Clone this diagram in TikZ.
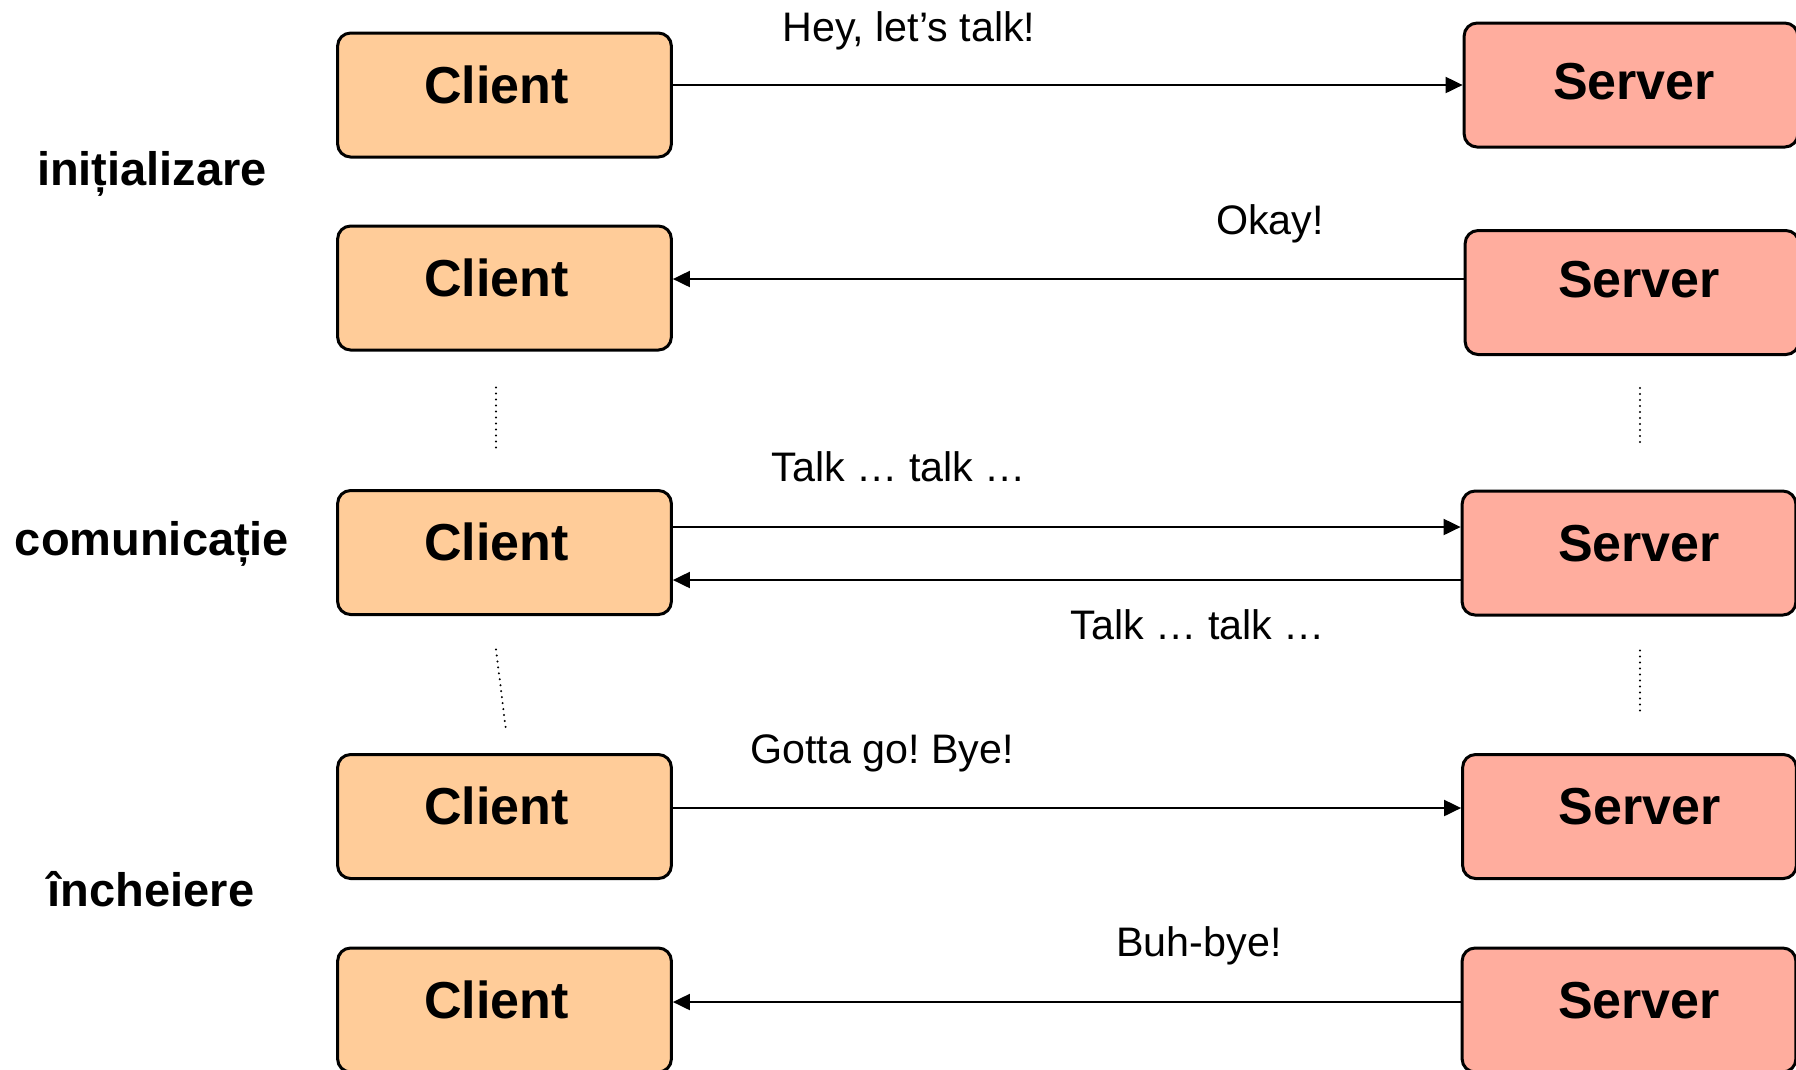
\documentclass[tikz,border=0pt]{standalone}
\usepackage{fontspec}
\setmainfont{Liberation Sans}
\usetikzlibrary{arrows.meta,calc}

\definecolor{clientfill}{HTML}{FFCC99}
\definecolor{serverfill}{HTML}{FFAD9E}

\tikzset{
  party/.style={draw=black, line width=1.2pt, rounded corners=5.2pt,
    minimum width=133.5pt, minimum height=49.6pt, inner sep=0pt,
    font=\fontsize{20.8}{25}\bfseries\selectfont,
    text height=15.2pt, text depth=8.8pt},
  % moves the label sideways inside its box by half the given amount
  nudge/.style={execute at begin node={\hspace*{#1}}},
  clientbox/.style={party, fill=clientfill, nudge=-6.4pt},
  serverplain/.style={party, fill=serverfill},
  serverbox/.style={serverplain, nudge=8pt},
  msg/.style={line width=0.8pt, -{Triangle[length=6.8pt,width=6.4pt]}},
  msgtext/.style={anchor=base, inner sep=0pt, font=\fontsize{16.5}{19}\selectfont},
  phase/.style={anchor=base, inner sep=0pt, font=\fontsize{18.8}{22}\bfseries\selectfont},
  elided/.style={line width=0.9pt, line cap=round, dash pattern=on 0pt off 2.4pt},
}

\begin{document}
\frenchspacing
\begin{tikzpicture}[x=0.4pt, y=-0.4pt]
  \clip (0,0) rectangle (1796,1069);

  % client column
  \node[clientbox] (c1) at (504.5,95)   {Client};
  \node[clientbox] (c2) at (504.5,288)  {Client};
  \node[clientbox] (c3) at (504.5,552.5){Client};
  \node[clientbox] (c4) at (504.5,816.5){Client};
  \node[clientbox] (c5) at (504.5,1010) {Client};

  % server column
  \node[serverplain, text depth=4pt, nudge=2.4pt]    (s1) at (1631,85)    {Server};
  \node[serverplain, text depth=11.2pt, nudge=5.6pt] (s2) at (1632,292.5) {Server};
  \node[serverbox] (s3) at (1629,553)   {Server};
  \node[serverbox] (s4) at (1629.5,816.5){Server};
  \node[serverbox] (s5) at (1629,1010)  {Server};

  % phase names
  \node[phase] (p1) at (152,185) {inițializare};
  \node[phase] (p2) at (152,555) {comunicație};
  \node[phase] (p3) at (151,906) {încheiere};

  % messages
  \draw[msg] (c1.east |- s1.west) -- (s1.west);
  \draw[msg] ($(s2.west)+(0,-13.5)$) coordinate (m2) -- (m2 -| c2.east);
  \draw[msg] ($(c3.east)+(0,-25.5)$) coordinate (m3) -- (m3 -| s3.west);
  \draw[msg] ($(s3.west)+(0,27)$) coordinate (m4) -- (m4 -| c3.east);
  \draw[msg] ($(c4.east)+(0,-8.5)$) coordinate (m5) -- (m5 -| s4.west);
  \draw[msg] ($(s5.west)+(0,-8)$) coordinate (m6) -- (m6 -| c5.east);

  \node[msgtext] (t1) at (909,41)  {Hey, let’s talk!};
  \node[msgtext] (t2) at (1270,234) {Okay!};
  \node[msgtext] (t3) at (899,481) {Talk … talk …};
  \node[msgtext] (t4) at (1198,639) {Talk … talk …};
  \node[msgtext] (t5) at (882,763) {Gotta go! Bye!};
  \node[msgtext] (t6) at (1199,956) {Buh-bye!};

  % elided exchanges
  \draw[elided] ($(c2.south)+(-8.5,36)$) -- ($(c3.north)+(-8.5,-41)$);
  \draw[elided] ($(c3.south)+(-8.5,33.5)$) -- ($(c4.north)+(1.5,-22.5)$);
  \draw[elided] ($(s2.south)+(8,32)$) -- ($(s3.north)+(11,-42)$);
  \draw[elided] ($(s3.south)+(11,34)$) -- ($(s4.north)+(10.5,-40)$);
\end{tikzpicture}
\end{document}
